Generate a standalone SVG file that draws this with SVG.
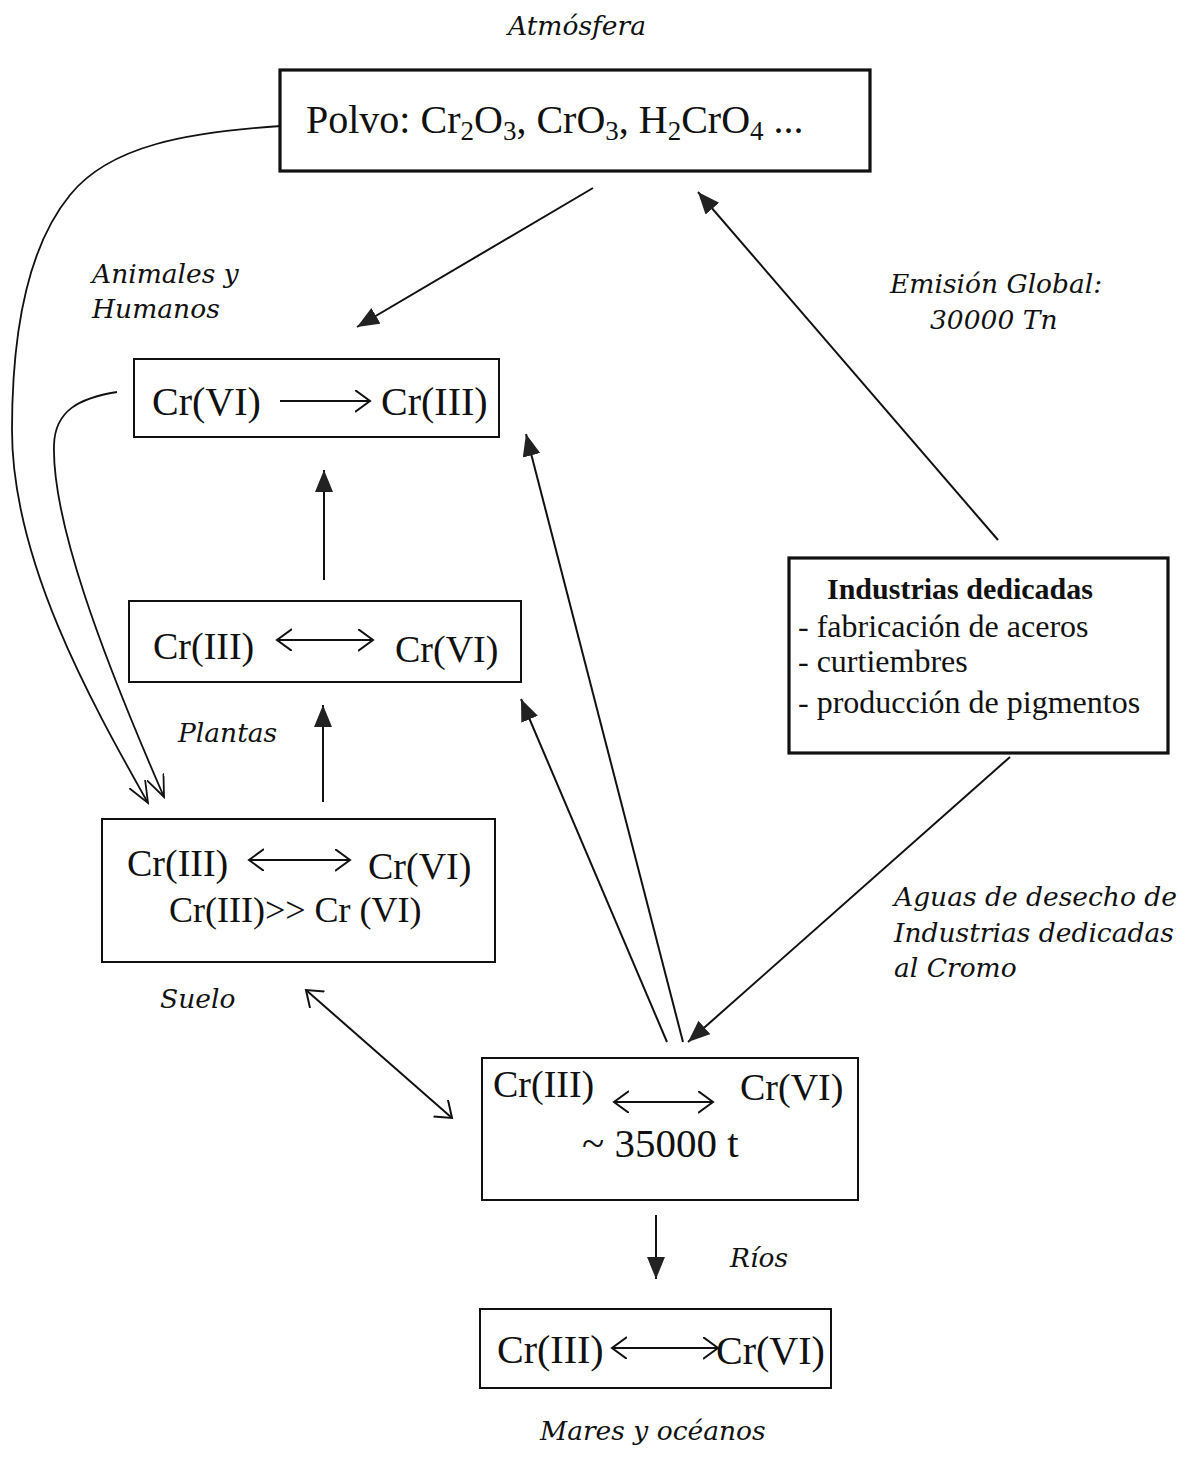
<svg xmlns="http://www.w3.org/2000/svg" width="1188" height="1458" viewBox="0 0 1188 1458">
<style>
.bg{fill:#ffffff}
.box{fill:none;stroke:#111;stroke-width:2}
.thick{fill:none;stroke:#111;stroke-width:3.2}
.t{font-family:"Liberation Serif","Times New Roman",serif;fill:#111}
.lbl{font-family:"DejaVu Serif",Georgia,serif;font-style:italic;fill:#111;font-size:26.5px}
.ln{stroke:#111;stroke-width:2;fill:none}
.cv{stroke:#111;stroke-width:1.8;fill:none}
.fa{marker-end:url(#tri)}
.va{marker-end:url(#v)}
.vb{marker-start:url(#v);marker-end:url(#v)}
.ca{marker-end:url(#vc)}
</style>
<defs>
<marker id="tri" markerUnits="userSpaceOnUse" markerWidth="24" markerHeight="20" refX="22" refY="9" orient="auto">
<path d="M0,0 L22,9 L0,18 z" fill="#222"/>
</marker>
<marker id="v" markerUnits="userSpaceOnUse" markerWidth="20" markerHeight="26" refX="15" refY="11" orient="auto-start-reverse">
<path d="M0,0 L15,11 L0,22" fill="none" stroke="#111" stroke-width="2"/>
</marker>
<marker id="vc" markerUnits="userSpaceOnUse" markerWidth="26" markerHeight="22" refX="22" refY="9" orient="auto">
<path d="M0,0 L22,9 L0,18" fill="none" stroke="#111" stroke-width="1.8"/>
</marker>
</defs>
<rect class="bg" x="0" y="0" width="1188" height="1458"/>

<g id="labels">
<text class="lbl" x="508" y="35">Atmósfera</text>
<text class="lbl" x="92" y="283">Animales y</text>
<text class="lbl" x="92" y="318">Humanos</text>
<text class="lbl" x="890" y="293">Emisión Global:</text>
<text class="lbl" x="930" y="329">30000 Tn</text>
<text class="lbl" x="178" y="742">Plantas</text>
<text class="lbl" x="160" y="1008">Suelo</text>
<text class="lbl" x="894" y="906">Aguas de desecho de</text>
<text class="lbl" x="894" y="942">Industrias dedicadas</text>
<text class="lbl" x="894" y="977">al Cromo</text>
<text class="lbl" x="730" y="1267">Ríos</text>
<text class="lbl" x="540" y="1440">Mares y océanos</text>
</g>

<g id="node-atmosfera">
<rect class="thick" x="280" y="70" width="590" height="101"/>
<text class="t" x="306" y="133" font-size="40">Polvo: Cr<tspan dy="7" font-size="27">2</tspan><tspan dy="-7">O</tspan><tspan dy="7" font-size="27">3</tspan><tspan dy="-7">, CrO</tspan><tspan dy="7" font-size="27">3</tspan><tspan dy="-7">, H</tspan><tspan dy="7" font-size="27">2</tspan><tspan dy="-7">CrO</tspan><tspan dy="7" font-size="27">4</tspan><tspan dy="-7"> ...</tspan></text>
</g>

<g id="node-animales">
<rect class="box" x="134" y="359" width="365" height="78"/>
<text class="t" x="152" y="415" font-size="40">Cr(VI)</text>
<line class="ln va" x1="280" y1="401" x2="370" y2="401"/>
<text class="t" x="381" y="415" font-size="40">Cr(III)</text>
</g>

<g id="node-plantas">
<rect class="box" x="129" y="601" width="392" height="81"/>
<text class="t" x="153" y="659" font-size="38">Cr(III)</text>
<line class="ln vb" x1="277" y1="640" x2="373" y2="640"/>
<text class="t" x="395" y="662" font-size="38">Cr(VI)</text>
</g>

<g id="node-suelo">
<rect class="box" x="102" y="819" width="393" height="143"/>
<text class="t" x="127" y="876" font-size="38">Cr(III)</text>
<line class="ln vb" x1="249" y1="860" x2="350" y2="860"/>
<text class="t" x="368" y="879" font-size="38">Cr(VI)</text>
<text class="t" x="169" y="922" font-size="36">Cr(III)&gt;&gt; Cr (VI)</text>
</g>

<g id="node-industrias">
<rect class="thick" x="789" y="558" width="379" height="195"/>
<text class="t" x="827" y="599" font-size="30" font-weight="bold">Industrias dedicadas</text>
<text class="t" x="798" y="637" font-size="32">- fabricación de aceros</text>
<text class="t" x="798" y="672" font-size="32">- curtiembres</text>
<text class="t" x="798" y="713" font-size="32">- producción de pigmentos</text>
</g>

<g id="node-aguas">
<rect class="box" x="482" y="1058" width="376" height="142"/>
<text class="t" x="493" y="1097" font-size="38">Cr(III)</text>
<line class="ln vb" x1="614" y1="1102" x2="713" y2="1102"/>
<text class="t" x="740" y="1100" font-size="38">Cr(VI)</text>
<text class="t" x="582" y="1157" font-size="41">~ 35000 t</text>
</g>

<g id="node-mares">
<rect class="box" x="480" y="1309" width="351" height="79"/>
<text class="t" x="497" y="1363" font-size="40">Cr(III)</text>
<line class="ln vb" x1="612" y1="1348" x2="718" y2="1348"/>
<text class="t" x="716" y="1364" font-size="40">Cr(VI)</text>
</g>

<g id="connectors">
<line class="ln fa" x1="593" y1="188" x2="357" y2="327"/>
<line class="ln fa" x1="998" y1="540" x2="698" y2="192"/>
<line class="ln fa" x1="324" y1="580" x2="324" y2="470"/>
<line class="ln fa" x1="323" y1="802" x2="323" y2="705"/>
<line class="ln fa" x1="667" y1="1042" x2="521" y2="699"/>
<line class="ln fa" x1="683" y1="1042" x2="526" y2="434"/>
<line class="ln fa" x1="1010" y1="757" x2="688" y2="1042"/>
<line class="ln fa" x1="656" y1="1215" x2="656" y2="1279"/>
<line class="ln vb" x1="306" y1="990" x2="452" y2="1118"/>
<path class="cv ca" d="M281,126 C190,132 110,145 70,195 C25,250 12,340 12,430 C12,560 90,700 148,803"/>
<path class="cv ca" d="M117,392 C80,398 55,410 54,445 C52,520 100,650 164,797"/>
</g>
</svg>
